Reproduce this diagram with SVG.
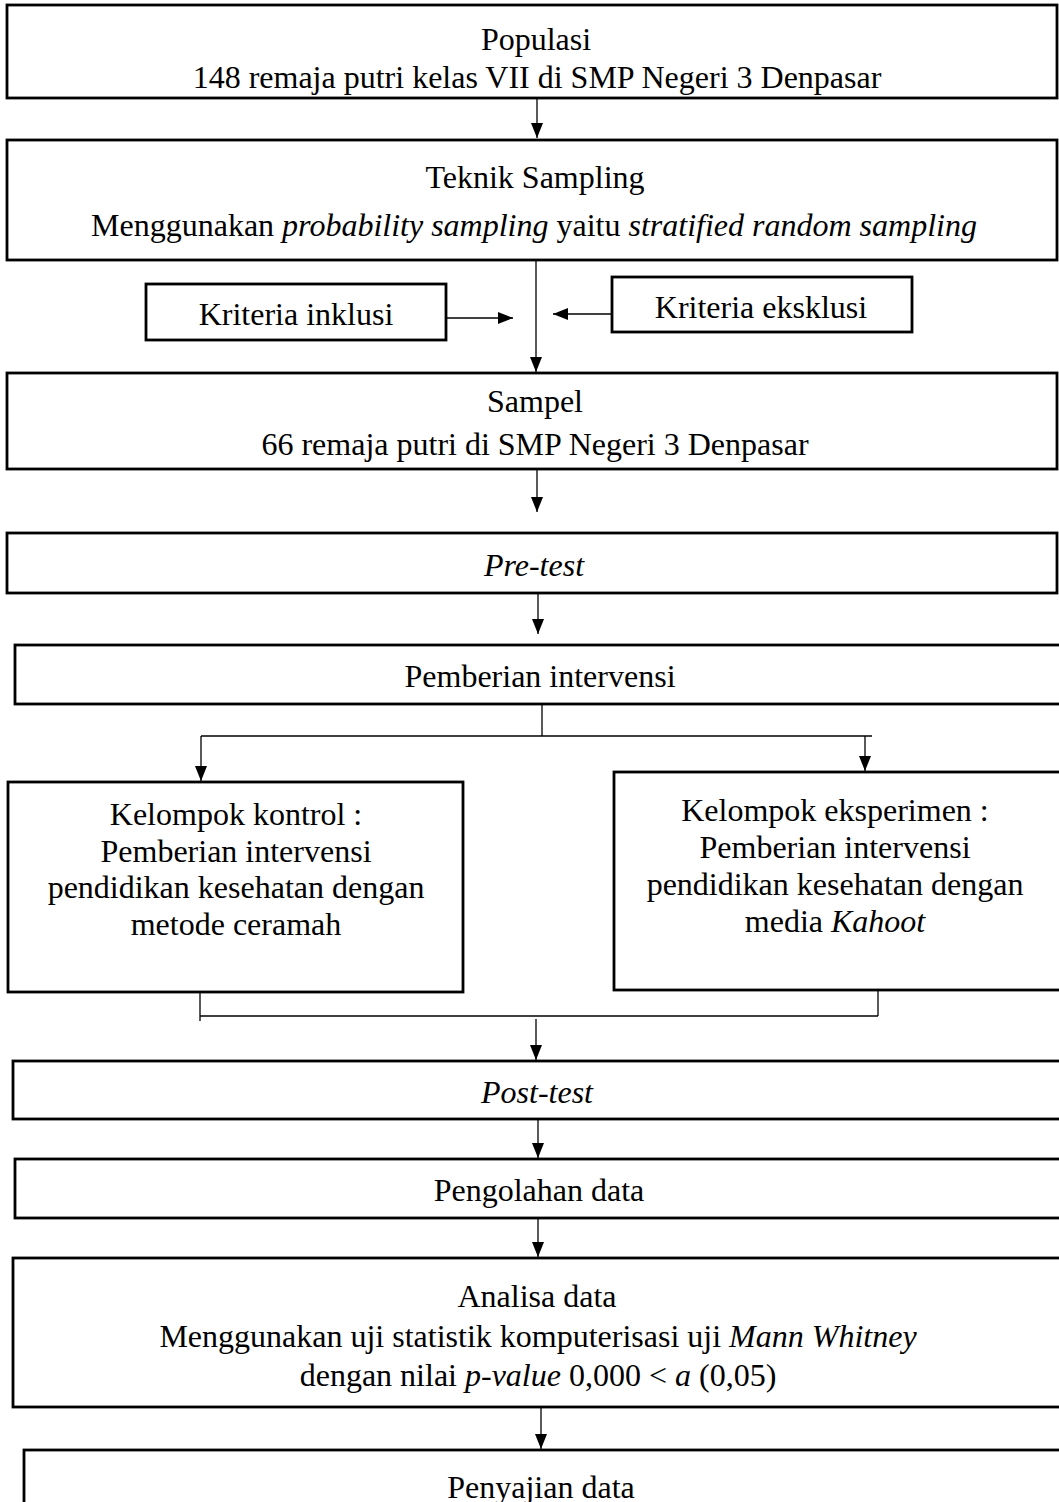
<svg xmlns="http://www.w3.org/2000/svg" width="1059" height="1502" viewBox="0 0 1059 1502">
<style>
.box{fill:#fff;stroke:#000;stroke-width:2.8}
.t{font-family:"Liberation Serif","Times New Roman",serif;font-size:32px;fill:#000;text-anchor:middle}
.i{font-style:italic}
.c{fill:none;stroke:#000;stroke-width:1.3}
</style>
<defs>
<marker id="ah" markerUnits="userSpaceOnUse" markerWidth="15" markerHeight="12" refX="15" refY="6" orient="auto">
<path d="M0,0 L15,6 L0,12 z" fill="#000"/>
</marker>
</defs>
<rect width="1059" height="1502" fill="#fff"/>

<g id="connectors">
<line class="c" x1="537" y1="98" x2="537" y2="138" marker-end="url(#ah)"/>
<line class="c" x1="536" y1="260" x2="536" y2="372" marker-end="url(#ah)"/>
<line class="c" x1="446" y1="318" x2="513" y2="318" marker-end="url(#ah)"/>
<line class="c" x1="612" y1="314" x2="553" y2="314" marker-end="url(#ah)"/>
<line class="c" x1="537" y1="469" x2="537" y2="512" marker-end="url(#ah)"/>
<line class="c" x1="538" y1="593" x2="538" y2="634" marker-end="url(#ah)"/>
<line class="c" x1="542" y1="704" x2="542" y2="736"/>
<line class="c" x1="201" y1="736" x2="872" y2="736"/>
<line class="c" x1="201" y1="736" x2="201" y2="781" marker-end="url(#ah)"/>
<line class="c" x1="865" y1="736" x2="865" y2="771" marker-end="url(#ah)"/>
<line class="c" x1="200" y1="992" x2="200" y2="1021"/>
<line class="c" x1="200" y1="1016" x2="878" y2="1016"/>
<line class="c" x1="878" y1="990" x2="878" y2="1016"/>
<line class="c" x1="536" y1="1019" x2="536" y2="1060" marker-end="url(#ah)"/>
<line class="c" x1="538" y1="1119" x2="538" y2="1158" marker-end="url(#ah)"/>
<line class="c" x1="538" y1="1218" x2="538" y2="1257" marker-end="url(#ah)"/>
<line class="c" x1="541" y1="1407" x2="541" y2="1449" marker-end="url(#ah)"/>
</g>

<g id="populasi">
<rect class="box" x="7" y="5" width="1050" height="93"/>
<text class="t" x="536" y="50">Populasi</text>
<text class="t" x="537" y="88">148 remaja putri kelas VII di SMP Negeri 3 Denpasar</text>
</g>

<g id="teknik-sampling">
<rect class="box" x="7" y="140" width="1050" height="120"/>
<text class="t" x="535" y="188">Teknik Sampling</text>
<text class="t" x="534" y="236">Menggunakan <tspan class="i">probability sampling</tspan> yaitu <tspan class="i">stratified random sampling</tspan></text>
</g>

<g id="kriteria-inklusi">
<rect class="box" x="146" y="284" width="300" height="56"/>
<text class="t" x="296" y="325">Kriteria inklusi</text>
</g>

<g id="kriteria-eksklusi">
<rect class="box" x="612" y="277" width="300" height="55"/>
<text class="t" x="761" y="318">Kriteria eksklusi</text>
</g>

<g id="sampel">
<rect class="box" x="7" y="373" width="1050" height="96"/>
<text class="t" x="535" y="412">Sampel</text>
<text class="t" x="535" y="455">66 remaja putri di SMP Negeri 3 Denpasar</text>
</g>

<g id="pre-test">
<rect class="box" x="7" y="533" width="1050" height="60"/>
<text class="t i" x="534" y="576">Pre-test</text>
</g>

<g id="pemberian-intervensi">
<rect class="box" x="15" y="645" width="1060" height="59"/>
<text class="t" x="540" y="687">Pemberian intervensi</text>
</g>

<g id="kelompok-kontrol">
<rect class="box" x="8" y="782" width="455" height="210"/>
<text class="t" x="236" y="825">Kelompok kontrol :</text>
<text class="t" x="236" y="862">Pemberian intervensi</text>
<text class="t" x="236" y="898">pendidikan kesehatan dengan</text>
<text class="t" x="236" y="935">metode ceramah</text>
</g>

<g id="kelompok-eksperimen">
<rect class="box" x="614" y="772" width="460" height="218"/>
<text class="t" x="835" y="821">Kelompok eksperimen :</text>
<text class="t" x="835" y="858">Pemberian intervensi</text>
<text class="t" x="835" y="895">pendidikan kesehatan dengan</text>
<text class="t" x="835" y="932">media <tspan class="i">Kahoot</tspan></text>
</g>

<g id="post-test">
<rect class="box" x="13" y="1061" width="1060" height="58"/>
<text class="t i" x="537" y="1103">Post-test</text>
</g>

<g id="pengolahan-data">
<rect class="box" x="15" y="1159" width="1060" height="59"/>
<text class="t" x="539" y="1201">Pengolahan data</text>
</g>

<g id="analisa-data">
<rect class="box" x="13" y="1258" width="1060" height="149"/>
<text class="t" x="537" y="1307">Analisa data</text>
<text class="t" x="538" y="1347">Menggunakan uji statistik komputerisasi uji <tspan class="i">Mann Whitney</tspan></text>
<text class="t" x="538" y="1386">dengan nilai <tspan class="i">p-value</tspan> 0,000 &lt; <tspan class="i">a</tspan> (0,05)</text>
</g>

<g id="penyajian-data">
<rect class="box" x="24" y="1450" width="1060" height="70"/>
<text class="t" x="541" y="1498">Penyajian data</text>
</g>
</svg>
